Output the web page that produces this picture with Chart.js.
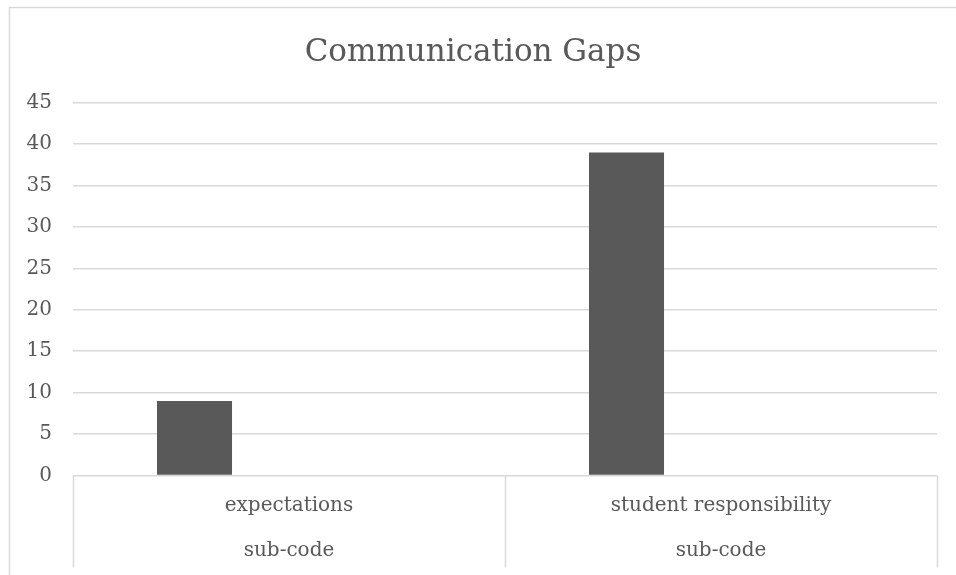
<!DOCTYPE html>
<html>
<head>
<meta charset="utf-8">
<script src="https://cdn.jsdelivr.net/npm/chart.js@4"></script>
<style>
    html, body { margin: 0; padding: 0; background: #fff; }
    #wrap { width: 956px; height: 575px; }
</style>
</head>
<body>
<div id="wrap"><canvas id="gapsChart" width="956" height="575"></canvas></div>
<script>
// category labels: sub-code name over the group label
const subCodes = [['expectations', 'sub-code'], ['student responsibility', 'sub-code']];
const gapCounts = [9, 39];
const emptySeries = [null, null];
const yTicks = [0, 5, 10, 15, 20, 25, 30, 35, 40, 45];

const gray = '#595959';
const lineGray = '#d9d9d9';
const serif = "'DejaVu Serif', serif";

// outer frame plus the vertical dividers between the category labels
const frameAndDividers = {
    id: 'frameAndDividers',
    afterDraw(chart) {
        const ctx = chart.ctx;
        const x = chart.scales.x;
        ctx.save();
        ctx.strokeStyle = lineGray;
        ctx.lineWidth = 1.5;
        ctx.strokeRect(9.5, 7.5, 980, 600);

        const edges = [x.left];
        for (let i = 0; i < subCodes.length - 1; i++) {
            edges.push((x.getPixelForValue(i) + x.getPixelForValue(i + 1)) / 2);
        }
        edges.push(x.right);
        ctx.beginPath();
        edges.forEach(px => {
            ctx.moveTo(Math.round(px) + 0.5, x.top);
            ctx.lineTo(Math.round(px) + 0.5, x.top + 92);
        });
        ctx.stroke();
        ctx.restore();
    }
};

new Chart(document.getElementById('gapsChart'), {
    type: 'bar',
    data: {
        labels: subCodes,
        datasets: [
            {
                label: 'count',
                data: gapCounts,
                backgroundColor: gray,
                categoryPercentage: 0.875,
                barPercentage: 0.397
            },
            {
                label: 'series 2',
                data: emptySeries,
                backgroundColor: gray,
                categoryPercentage: 0.875,
                barPercentage: 0.397
            }
        ]
    },
    options: {
        responsive: false,
        animation: false,
        layout: { padding: { left: 9, right: 19, top: 0, bottom: 0 } },
        plugins: {
            legend: { display: false },
            tooltip: { enabled: false },
            title: {
                display: true,
                text: 'Communication Gaps',
                color: gray,
                font: { family: serif, size: 31, weight: 'normal', lineHeight: 1.2 },
                padding: { top: 34, bottom: 31.5 }
            }
        },
        scales: {
            x: {
                grid: { display: false, drawTicks: false },
                border: { display: false },
                ticks: {
                    color: gray,
                    padding: 8,
                    maxRotation: 0,
                    font: { family: serif, size: 20, lineHeight: 45 / 20 }
                },
                afterFit(scale) { scale.height = 99.5; }
            },
            y: {
                min: 0,
                max: 45,
                afterBuildTicks(scale) { scale.ticks = yTicks.map(v => ({ value: v })); },
                grid: { color: lineGray, lineWidth: 1.5, drawTicks: false },
                border: { display: false },
                ticks: {
                    color: gray,
                    padding: 21,
                    font: { family: serif, size: 20 }
                },
                afterFit(scale) { scale.width = 64; }
            }
        }
    },
    plugins: [frameAndDividers]
});
</script>
</body>
</html>
